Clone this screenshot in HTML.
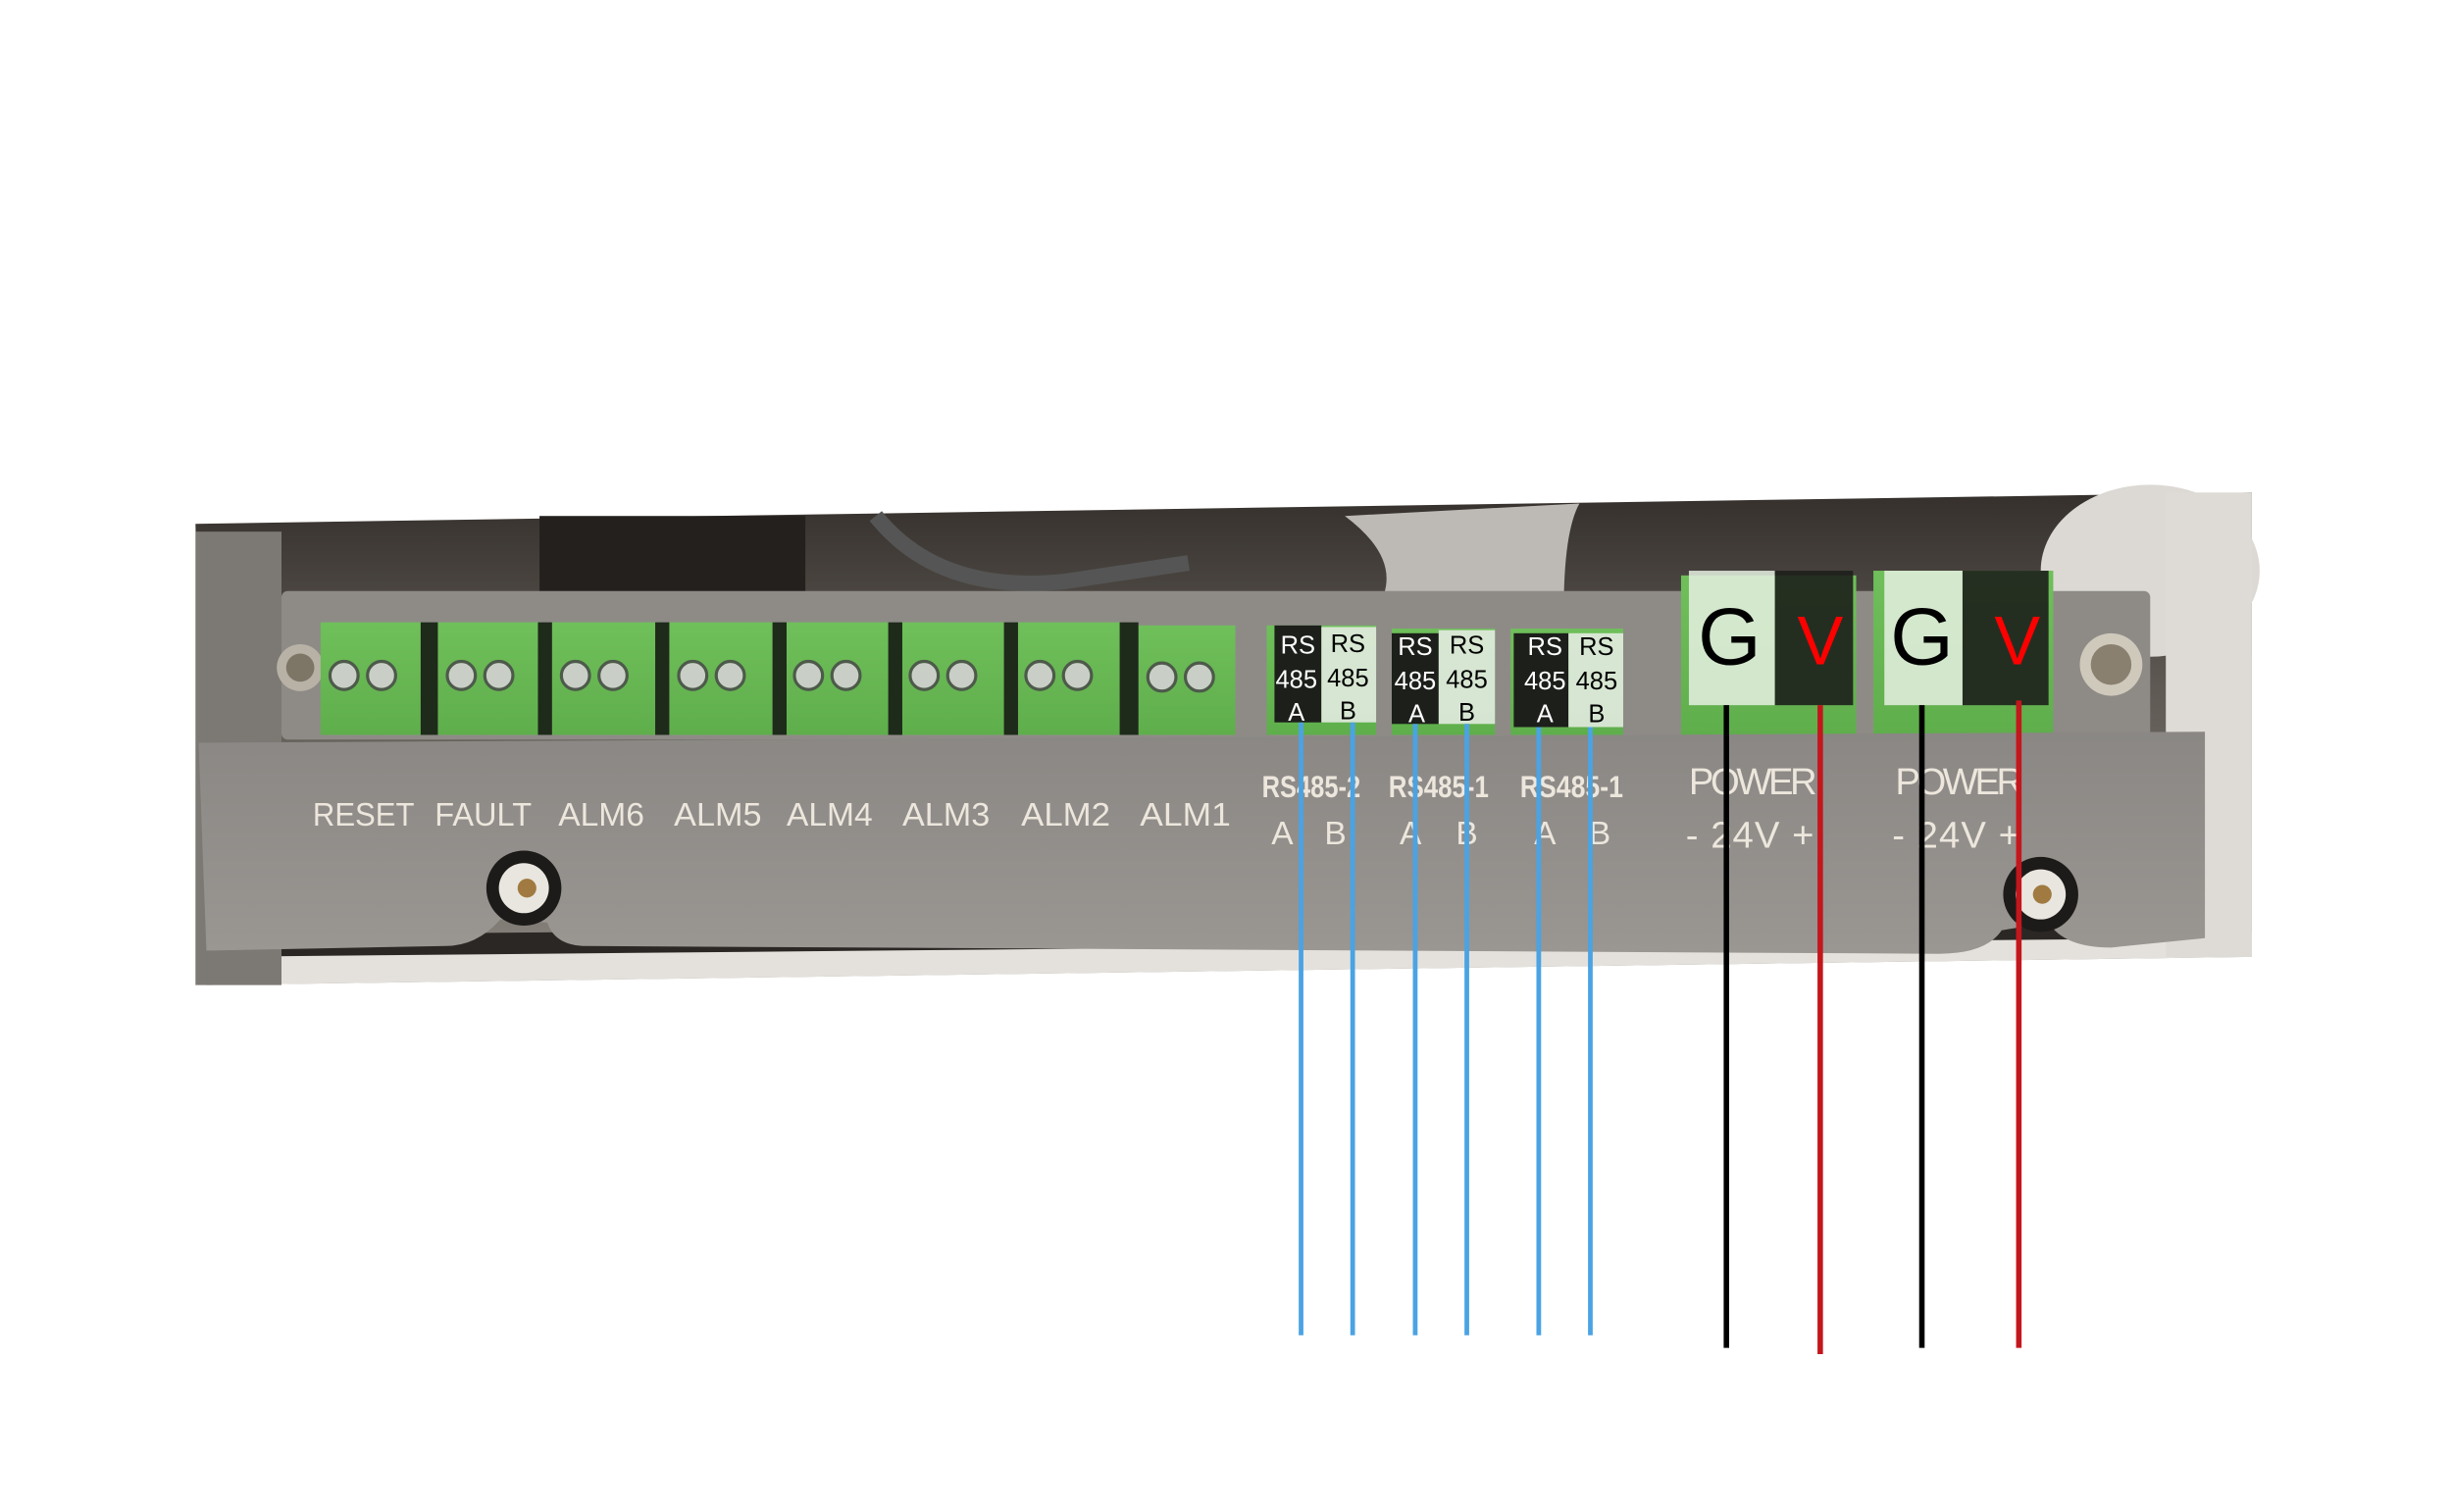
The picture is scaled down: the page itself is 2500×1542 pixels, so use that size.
<!DOCTYPE html>
<html><head><meta charset="utf-8"><style>
html,body{margin:0;padding:0;background:#fff;}
svg{display:block;}
text{font-family:"Liberation Sans",sans-serif;}
</style></head><body>
<svg width="2500" height="1542" viewBox="0 0 1568 967" preserveAspectRatio="none" xmlns="http://www.w3.org/2000/svg">
<defs>
<linearGradient id="cav" x1="0" y1="0" x2="0" y2="1">
<stop offset="0" stop-color="#35302c"/><stop offset="0.4" stop-color="#5f5a54"/><stop offset="1" stop-color="#8a857e"/>
</linearGradient>
<linearGradient id="plate" x1="0" y1="0" x2="0" y2="1">
<stop offset="0" stop-color="#8a8784"/><stop offset="1" stop-color="#9a9692"/>
</linearGradient>
<linearGradient id="green" x1="0" y1="0" x2="0" y2="1">
<stop offset="0" stop-color="#6fbf5a"/><stop offset="1" stop-color="#5fae4c"/>
</linearGradient>
</defs>
<!-- panel -->
<polygon points="125,335 1440,315 1440,612 132,630" fill="url(#cav)"/>
<polygon points="132,606 1440,596 1440,612 132,630" fill="#e4e1dc"/>
<polygon points="132,598 1410,588 1410,600 132,612" fill="#2a2724"/>
<!-- upper cavity items -->
<rect x="345" y="330" width="170" height="55" fill="#24201d"/>
<path d="M560,330 Q600,380 680,372 L760,360" stroke="#555" stroke-width="10" fill="none"/>
<path d="M860,330 Q900,360 880,390 L1000,390 Q1000,340 1010,322" fill="#bdbab5"/>
<ellipse cx="1375" cy="365" rx="70" ry="55" fill="#dcd9d4"/>
<rect x="1385" y="315" width="55" height="297" fill="#dedbd6"/>
<rect x="125" y="340" width="55" height="290" fill="#7c7874"/>
<!-- backing bar -->
<rect x="180" y="378" width="1195" height="95" rx="4" fill="#8e8b87"/>
<!-- screws -->
<circle cx="192" cy="427" r="15" fill="#b8b2a6"/><circle cx="192" cy="427" r="9" fill="#7d7566"/>
<circle cx="1350" cy="425" r="20" fill="#cfc9bc"/><circle cx="1350" cy="425" r="13" fill="#8a8070"/>
<!-- green terminals -->
<g fill="url(#green)">
<rect x="205" y="398" width="68" height="72"/><rect x="280" y="398" width="68" height="72"/>
<rect x="353" y="398" width="68" height="72"/><rect x="428" y="398" width="68" height="72"/>
<rect x="502" y="398" width="68" height="72"/><rect x="576" y="398" width="68" height="72"/>
<rect x="650" y="398" width="68" height="72"/><rect x="728" y="400" width="62" height="70"/>
<rect x="810" y="400" width="70" height="70"/><rect x="890" y="402" width="66" height="68"/>
<rect x="966" y="402" width="72" height="68"/>
<rect x="1075" y="368" width="112" height="102"/><rect x="1198" y="365" width="115" height="105"/>
</g>
<g fill="#1e2a1a">
<rect x="269" y="398" width="11" height="72"/><rect x="344" y="398" width="9" height="72"/>
<rect x="419" y="398" width="9" height="72"/><rect x="494" y="398" width="9" height="72"/>
<rect x="568" y="398" width="9" height="72"/><rect x="642" y="398" width="9" height="72"/>
<rect x="716" y="398" width="12" height="72"/>
</g>
<g fill="#c9cfc6" stroke="#4d5a4a" stroke-width="2">
<circle cx="220" cy="432" r="9"/><circle cx="244" cy="432" r="9"/>
<circle cx="295" cy="432" r="9"/><circle cx="319" cy="432" r="9"/>
<circle cx="368" cy="432" r="9"/><circle cx="392" cy="432" r="9"/>
<circle cx="443" cy="432" r="9"/><circle cx="467" cy="432" r="9"/>
<circle cx="517" cy="432" r="9"/><circle cx="541" cy="432" r="9"/>
<circle cx="591" cy="432" r="9"/><circle cx="615" cy="432" r="9"/>
<circle cx="665" cy="432" r="9"/><circle cx="689" cy="432" r="9"/>
<circle cx="743" cy="433" r="9"/><circle cx="767" cy="433" r="9"/>
</g>
<!-- front plate -->
<path d="M127,475 L1410,468 L1410,600 L1350,606 Q1320,606 1310,590 L1280,595 Q1270,610 1240,610 L375,605 Q355,605 350,590 L320,588 Q305,605 285,605 L132,608 Z" fill="url(#plate)"/>
<circle cx="335" cy="568" r="24" fill="#1d1b19"/><circle cx="335" cy="568" r="16" fill="#e9e6e0"/><circle cx="337" cy="568" r="6" fill="#a07a40"/>
<circle cx="1305" cy="572" r="24" fill="#1d1b19"/><circle cx="1305" cy="572" r="16" fill="#e9e6e0"/><circle cx="1306" cy="572" r="6" fill="#a07a40"/>
<!-- plate labels -->
<g fill="#ece6dc" font-size="21" lengthAdjust="spacingAndGlyphs">
<text x="200" y="528" textLength="65" lengthAdjust="spacingAndGlyphs">RESET</text>
<text x="278" y="528" textLength="62" lengthAdjust="spacingAndGlyphs">FAULT</text>
<text x="357" y="528" textLength="55" lengthAdjust="spacingAndGlyphs">ALM6</text>
<text x="431" y="528" textLength="56" lengthAdjust="spacingAndGlyphs">ALM5</text>
<text x="503" y="528" textLength="55" lengthAdjust="spacingAndGlyphs">ALM4</text>
<text x="577" y="528" textLength="56" lengthAdjust="spacingAndGlyphs">ALM3</text>
<text x="653" y="528" textLength="57" lengthAdjust="spacingAndGlyphs">ALM2</text>
<text x="729" y="528" textLength="58" lengthAdjust="spacingAndGlyphs">ALM1</text>
<text x="807" y="510" font-size="20" font-weight="bold" textLength="63" lengthAdjust="spacingAndGlyphs">RS485-2</text>
<text x="888" y="510" font-size="20" font-weight="bold" textLength="64" lengthAdjust="spacingAndGlyphs">RS485-1</text>
<text x="972" y="510" font-size="20" font-weight="bold" textLength="66" lengthAdjust="spacingAndGlyphs">RS485-1</text>
<text x="813" y="540">A</text><text x="847" y="540">B</text>
<text x="895" y="540">A</text><text x="931" y="540">B</text>
<text x="981" y="540">A</text><text x="1016" y="540">B</text>
<text x="1080" y="508" font-size="24" textLength="82" lengthAdjust="spacing">POWER</text>
<text x="1212" y="508" font-size="24" textLength="82" lengthAdjust="spacing">POWER</text>
<text x="1078" y="542" font-size="24" textLength="82" lengthAdjust="spacing">- 24V +</text>
<text x="1210" y="542" font-size="24" textLength="82" lengthAdjust="spacing">- 24V +</text>
</g>
<!-- RS485 label boxes -->
<g font-size="16" text-anchor="middle">
<rect x="815" y="400" width="30" height="62" fill="#1c1f1a"/><rect x="845" y="401" width="35" height="61" fill="#e3ebe0" opacity="0.9"/>
<rect x="890" y="405" width="30" height="58" fill="#1c1f1a"/><rect x="920" y="403" width="36" height="60" fill="#e3ebe0" opacity="0.9"/>
<rect x="968" y="405" width="35" height="60" fill="#1c1f1a"/><rect x="1003" y="405" width="35" height="60" fill="#e3ebe0" opacity="0.9"/>
<g fill="#fff"><text x="830" y="418">RS</text><text x="829" y="440">485</text><text x="829" y="461">A</text>
<text x="905" y="419">RS</text><text x="905" y="441">485</text><text x="906" y="462">A</text>
<text x="988" y="419">RS</text><text x="988" y="441">485</text><text x="988" y="462">A</text></g>
<g fill="#000"><text x="862" y="417">RS</text><text x="862" y="439">485</text><text x="862" y="460">B</text>
<text x="938" y="418">RS</text><text x="938" y="440">485</text><text x="938" y="461">B</text>
<text x="1021" y="419">RS</text><text x="1021" y="441">485</text><text x="1021" y="462">B</text></g>
</g>
<!-- G / V boxes -->
<rect x="1080" y="365" width="55" height="86" fill="#e6f0e2" opacity="0.85"/>
<rect x="1135" y="365" width="50" height="86" fill="#1d1f1b" opacity="0.9"/>
<rect x="1205" y="365" width="50" height="86" fill="#e6f0e2" opacity="0.85"/>
<rect x="1255" y="365" width="55" height="86" fill="#1d1f1b" opacity="0.9"/>
<g font-size="52" text-anchor="middle">
<text x="1106" y="425" fill="#000">G</text><text x="1164" y="425" fill="#f00" font-size="44">V</text>
<text x="1229" y="425" fill="#000">G</text><text x="1290" y="425" fill="#f00" font-size="44">V</text>
</g>
<!-- wires -->
<g stroke="#4aa3e3" stroke-width="3">
<line x1="832" y1="462" x2="832" y2="854"/><line x1="865" y1="462" x2="865" y2="854"/>
<line x1="905" y1="463" x2="905" y2="854"/><line x1="938" y1="463" x2="938" y2="854"/>
<line x1="984" y1="465" x2="984" y2="854"/><line x1="1017" y1="465" x2="1017" y2="854"/>
</g>
<g stroke="#000" stroke-width="3.5">
<line x1="1104" y1="451" x2="1104" y2="862"/><line x1="1229" y1="451" x2="1229" y2="862"/>
</g>
<g stroke="#c4161c" stroke-width="3.5">
<line x1="1164" y1="451" x2="1164" y2="866"/><line x1="1291" y1="448" x2="1291" y2="862"/>
</g>
</svg>
</body></html>
